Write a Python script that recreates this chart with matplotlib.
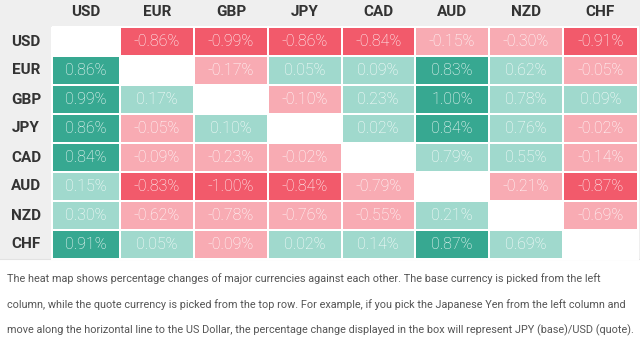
import numpy as np
import matplotlib
matplotlib.use("Agg")
import matplotlib.pyplot as plt
from matplotlib.colors import ListedColormap, BoundaryNorm
from matplotlib.patches import Rectangle

currencies = ["USD", "EUR", "GBP", "JPY", "CAD", "AUD", "NZD", "CHF"]
# rows = base currency, columns = quote currency
changes = np.array([
    [np.nan, -0.86, -0.99, -0.86, -0.84, -0.15, -0.30, -0.91],
    [0.86, np.nan, -0.17, 0.05, 0.09, 0.83, 0.62, -0.05],
    [0.99, 0.17, np.nan, -0.10, 0.23, 1.00, 0.78, 0.09],
    [0.86, -0.05, 0.10, np.nan, 0.02, 0.84, 0.76, -0.02],
    [0.84, -0.09, -0.23, -0.02, np.nan, 0.79, 0.55, -0.14],
    [0.15, -0.83, -1.00, -0.84, -0.79, np.nan, -0.21, -0.87],
    [0.30, -0.62, -0.78, -0.76, -0.55, 0.21, np.nan, -0.69],
    [0.91, 0.05, -0.09, 0.02, 0.14, 0.87, 0.69, np.nan],
])
note_lines = [
    "The heat map shows percentage changes of major currencies against each other. The base currency is picked from the left",
    "column, while the quote currency is picked from the top row. For example, if you pick the Japanese Yen from the left column and",
    "move along the horizontal line to the US Dollar, the percentage change displayed in the box will represent JPY (base)/USD (quote).",
]

# layout in pixels
col_edges = np.array([52, 120, 194, 268, 341.5, 415, 489, 563, 638])
row_edges = 26.5 + 29 * np.arange(9)

plt.rcParams['font.family'] = ['Roboto', 'DejaVu Sans']

fig = plt.figure(figsize=(6.4, 3.5), dpi=100)
fig.patch.set_facecolor("white")
ax = fig.add_axes([0, 0, 1, 1])
ax.set_xlim(0, 640)
ax.set_ylim(350, 0)
ax.axis("off")

# gray frame behind header and row labels, white table body
ax.add_patch(Rectangle((0, 0), 640, 259, facecolor="#efefef", edgecolor="none", zorder=0))
ax.add_patch(Rectangle((col_edges[0], row_edges[0]), col_edges[-1] - col_edges[0],
                       row_edges[-1] - row_edges[0], facecolor="white", edgecolor="none", zorder=1))
ax.plot([0, 640], [259, 259], color="#e2e2e2", lw=0.8, zorder=1)

cmap = ListedColormap(["#f25a6b", "#f8abb3", "#a0d9cd", "#37a891"])
norm = BoundaryNorm([-2, -0.8, 0, 0.8, 2], cmap.N)
ax.pcolormesh(col_edges, row_edges, np.ma.masked_invalid(changes), cmap=cmap, norm=norm,
              edgecolors="white", linewidth=1.2, zorder=2)

xc = (col_edges[:-1] + col_edges[1:]) / 2
yc = (row_edges[:-1] + row_edges[1:]) / 2
for i in range(len(currencies)):
    for j in range(len(currencies)):
        v = changes[i, j]
        if np.isnan(v):
            continue
        ax.text(xc[j], yc[i] + 0.5, f"{v:.2f}%", color="white", fontsize=11.5,
                fontweight="light", ha="center", va="center", zorder=3)

for j, c in enumerate(currencies):
    ax.text(xc[j], 12.5, c, color="#333333", fontsize=11, fontweight="bold",
            ha="center", va="center", zorder=3)
for i, c in enumerate(currencies):
    ax.text(26, yc[i] + 0.5, c, color="#333333", fontsize=11, fontweight="bold",
            ha="center", va="center", zorder=3)

for k, line in enumerate(note_lines):
    ax.text(7, 278.5 + 26 * k, line, color="#555555", fontsize=7.82,
            ha="left", va="center", zorder=3)

fig.savefig("out.png", dpi=100, facecolor="white")
